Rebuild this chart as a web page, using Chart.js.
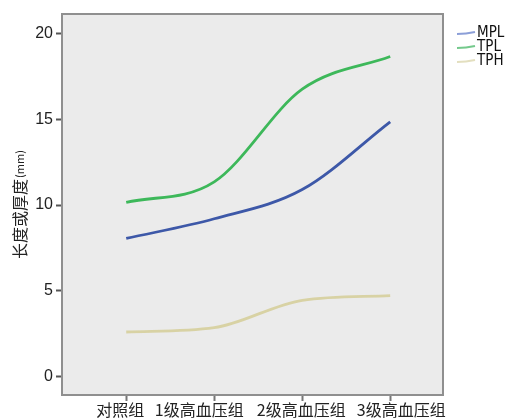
<!DOCTYPE html>
<html><head><meta charset="utf-8">
<script src="https://cdn.jsdelivr.net/npm/chart.js@4.4.0/dist/chart.umd.min.js"></script>
<style>html,body{margin:0;padding:0;background:#fff;}#wrap{width:505px;height:419px;}</style>
</head><body><div id="wrap"><canvas id="c" width="505" height="419"></canvas></div>
<script>
const categories = ['对照组','1级高血压组','2级高血压组','3级高血压组'];
const seriesNames = ['MPL','TPL','TPH'];
const mpl = [8.05, 9.2, 10.9, 14.85];
const tpl = [10.15, 11.35, 16.75, 18.65];
const tph = [2.6, 2.85, 4.45, 4.72];
const yTicks = [0,5,10,15,20];
const colors = ['#3d58a8','#3db85a','#d8d2a4'];
const legendColors = ['#8c9fd8','#74c98c','#e3dfbf'];
const labelShift = [-6,-15,-1,11];

const allSeries = [mpl, tpl, tph];
const datasets = allSeries.map((arr,i)=>({
  label: seriesNames[i],
  data: arr.map((v,j)=>({x:j,y:v})),
  borderColor: colors[i],
  borderWidth: 2.8,
  pointRadius: 0,
  fill:false,
  cubicInterpolationMode:'monotone'
}));

const FONT_CJK = '"Noto Sans CJK SC", "Noto Sans", sans-serif';

const bgPlugin = {
  id:'bg',
  beforeDraw(chart){
    const {ctx, chartArea:a} = chart;
    ctx.save();
    ctx.fillStyle = '#ebebeb';
    ctx.fillRect(a.left, a.top, a.right-a.left, a.bottom-a.top);
    ctx.restore();
  },
  afterDraw(chart){
    const {ctx, chartArea:a} = chart;
    ctx.save();
    ctx.strokeStyle = '#8f8f8f';
    ctx.lineWidth = 2;
    ctx.strokeRect(a.left, a.top, a.right-a.left, a.bottom-a.top);
    // x labels
    const xs = chart.scales.x;
    ctx.fillStyle = '#222';
    ctx.font = '16px ' + FONT_CJK;
    ctx.textAlign = 'center';
    ctx.textBaseline = 'middle';
    categories.forEach((c,i)=>{
      ctx.fillText(c, xs.getPixelForValue(i) + labelShift[i], 410);
    });
    ctx.restore();
    // axis title
    ctx.save();
    ctx.translate(20, 205);
    ctx.rotate(-Math.PI/2);
    ctx.fillStyle = '#222';
    ctx.textBaseline = 'middle';
    ctx.font = '16px ' + FONT_CJK;
    const t1 = '长度或厚度';
    const w1 = ctx.measureText(t1).width;
    ctx.font = '11px ' + FONT_CJK;
    const t2 = '(mm)';
    const w2 = ctx.measureText(t2).width;
    const start = -(w1+w2)/2;
    ctx.font = '16px ' + FONT_CJK;
    ctx.textAlign = 'left';
    ctx.fillText(t1, start, 0);
    ctx.font = '11px ' + FONT_CJK;
    ctx.fillText(t2, start + w1 + 1, 0);
    ctx.restore();
    // legend
    ctx.save();
    const lx = 457, ys = [33, 47, 61];
    seriesNames.forEach((n,i)=>{
      ctx.strokeStyle = legendColors[i];
      ctx.lineWidth = 2;
      ctx.beginPath();
      ctx.moveTo(lx, ys[i]+1);
      ctx.quadraticCurveTo(lx+9, ys[i]+1, lx+18, ys[i]-1);
      ctx.stroke();
      ctx.fillStyle = '#111';
      ctx.font = '15px "Liberation Sans Narrow", "DejaVu Sans Condensed", sans-serif';
      ctx.textBaseline = 'middle';
      ctx.textAlign = 'left';
      ctx.fillText(n, 477, ys[i]);
    });
    ctx.restore();
  }
};

new Chart(document.getElementById('c'), {
  type:'line',
  data:{datasets},
  plugins:[bgPlugin],
  options:{
    responsive:false,
    animation:false,
    layout:{padding:{left:0, right:62, top:14, bottom:0}},
    plugins:{legend:{display:false}, tooltip:{enabled:false}},
    scales:{
      x:{
        type:'linear', min:-0.73, max:3.6,
        afterBuildTicks(s){ s.ticks = categories.map((c,i)=>({value:i})); },
        afterFit(s){ s.height = 24; },
        grid:{display:true, drawOnChartArea:false, drawTicks:true, tickLength:6, tickColor:'#777', tickWidth:2},
        border:{display:false},
        ticks:{ display:false }
      },
      y:{
        min:-1.07, max:21.13,
        afterBuildTicks(s){ s.ticks = yTicks.map(v=>({value:v})); },
        afterFit(s){ s.width = 62; },
        grid:{display:true, drawOnChartArea:false, drawTicks:true, tickLength:6, tickColor:'#555', tickWidth:2},
        border:{display:false},
        ticks:{color:'#222', font:{family:'"Liberation Sans", Arial, sans-serif', size:16}, padding:3}
      }
    }
  }
});
</script></body></html>
